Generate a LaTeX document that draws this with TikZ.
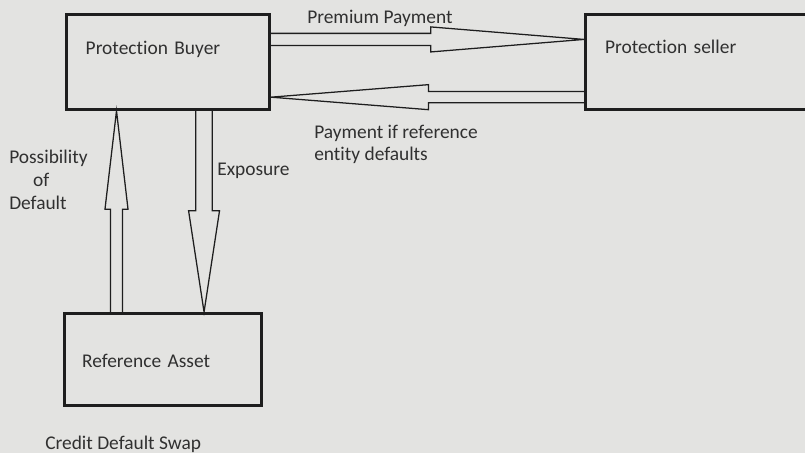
\documentclass[tikz,border=0pt]{standalone}
\usepackage{fontspec}
\setmainfont{Carlito}[Ligatures=NoCommon]
\usepackage{tikz}
\usetikzlibrary{calc,positioning}
\definecolor{paper}{HTML}{E3E3E1}
\definecolor{ink}{HTML}{303030}
\definecolor{edge}{HTML}{1E1E1E}

\begin{document}
\begin{tikzpicture}[
  x=0.025cm, y=-0.025cm,
  every node/.style={font=\fontsize{13.8pt}{16pt}\selectfont,text=ink},
  box/.style={draw=edge,line width=2.1pt,inner ysep=0pt,align=left,anchor=north west},
  lbl/.style={inner sep=0pt,align=left,anchor=west},
  hollow/.style={draw=edge,line width=0.9pt,line join=miter}
]
\useasboundingbox[fill=paper] (0,0) rectangle (805,453);
\node[box,inner xsep=13.5pt,minimum width=5.075cm,text width=117pt,
      text height=28.4pt,text depth=39.1pt] (buyer) at (65,13) {Protection Buyer};
\node[box,inner xsep=10.7pt,minimum width=6.25cm,text width=150pt,
      text height=27.7pt,text depth=39.8pt] (seller) at (584,13) {Protection seller};
\node[box,inner xsep=12pt,minimum width=4.925cm,text width=115pt,
      text height=38.4pt,text depth=27pt] (ref) at (63,312) {Reference Asset};
% arrow end points on the boxes
\coordinate (pb1) at ($(buyer.north east)!0.27!(buyer.south east)$);
\coordinate (ps1) at (pb1 -| seller.west);
\coordinate (pb2) at ($(buyer.north east)!0.86!(buyer.south east)$);
\coordinate (ps2) at (pb2 -| seller.west);
\coordinate (pa1) at ($(buyer.south west)!0.25!(buyer.south east)$);
\coordinate (ra1) at (pa1 |- ref.north);
\coordinate (pa2) at ($(buyer.south west)!0.675!(buyer.south east)$);
\coordinate (ra2) at (pa2 |- ref.north);
\foreach \u/\v/\s/\w/\l in {pb1/ps1/4.3/8.9/109,ps2/pb2/4/8.9/112,ra1/pa1/4.3/8.2/70,pa2/ra2/5.9/11/72}{
  \coordinate (hp) at ($(\v)!\l pt!(\u)$);
  \draw[hollow] ($(\u)!\s pt!90:(\v)$) -- ($(hp)!\s pt!90:(\v)$) -- ($(hp)!\w pt!90:(\v)$)
    -- (\v) -- ($(hp)!\w pt!-90:(\v)$) -- ($(hp)!\s pt!-90:(\v)$) -- ($(\u)!\s pt!-90:(\v)$);
}
\node[lbl] (premium) at (307,18) {Premium Payment};
\node[lbl,font=\fontsize{13.8pt}{15.6pt}\selectfont] (payout) at (314,144) {Payment if reference\\entity defaults};
\node[lbl,font=\fontsize{13.8pt}{16.4pt}\selectfont] (possible) at (9,180) {Possibility\\\hspace*{17pt}of\\Default};
\node[lbl] (exposure) at (217,171) {Exposure};
\node[lbl] (caption) at (45,444) {Credit Default Swap};
\end{tikzpicture}
\end{document}
